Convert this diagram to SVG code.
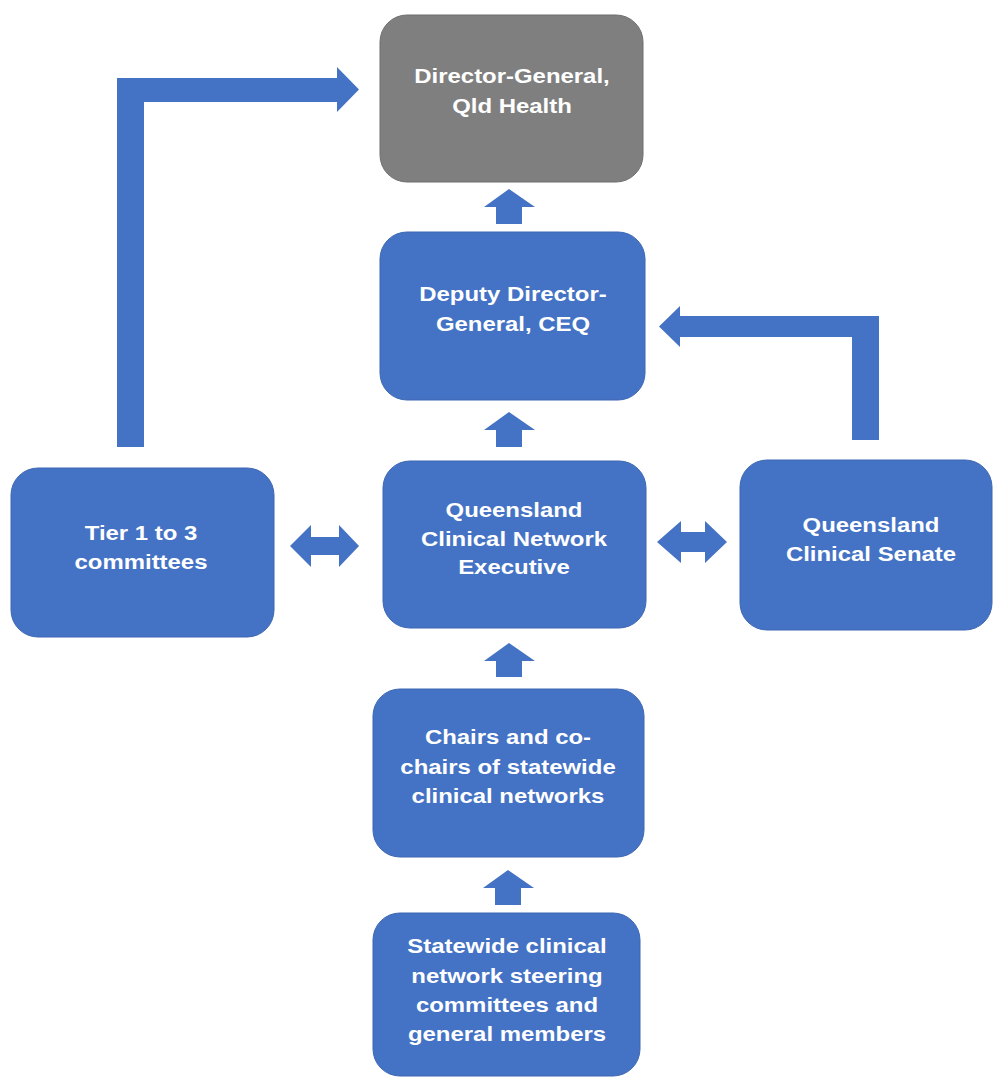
<svg xmlns="http://www.w3.org/2000/svg" width="993" height="1077" viewBox="0 0 993 1077">
  <style>
    .box { fill: #4472C4; stroke: #3d67b3; stroke-width: 1; }
    .gray { fill: #7F7F7F; stroke: #6f6f6f; stroke-width: 1; }
    .lbl { font-family: "Liberation Sans", Arial, sans-serif; font-weight: bold; font-size: 21px; fill: #FFFFFF; text-anchor: middle; }
    .arr { fill: #4472C4; }
  </style>
  <rect width="993" height="1077" fill="#FFFFFF"/>

  <g id="connectors">
    <polygon class="arr" points="484,207 509,189 535,207 522,207 522,224 496,224 496,207"/>
    <polygon class="arr" points="484,430 509,412 535,430 522,430 522,447 496,447 496,430"/>
    <polygon class="arr" points="484,661 509,643 535,661 522,661 522,677 496,677 496,661"/>
    <polygon class="arr" points="483,888 508,870 534,888 521,888 521,905 495,905 495,888"/>
    <polygon class="arr" points="117,447 117,78 337,78 337,67 359,89.5 337,112 337,102 144,102 144,447"/>
    <polygon class="arr" points="879,440 879,316 680,316 680,306 659,326.5 680,347 680,337 852,337 852,440"/>
    <polygon class="arr" points="290,546 311,525 311,537 339,537 339,525 359,546 339,567 339,555 311,555 311,567"/>
    <polygon class="arr" points="657,542 681,521 681,532 705,532 705,521 727,542 705,563 705,552 681,552 681,563"/>
  </g>

  <g id="dg">
    <rect class="gray" x="380" y="15" width="263" height="167" rx="27"/>
    <text class="lbl" transform="translate(512,0) scale(1.14,1)"><tspan x="0" y="83">Director-General,</tspan><tspan x="0" y="113">Qld Health</tspan></text>
  </g>

  <g id="ddg">
    <rect class="box" x="380" y="232" width="265" height="168" rx="27"/>
    <text class="lbl" transform="translate(513,0) scale(1.14,1)"><tspan x="0" y="301">Deputy Director-</tspan><tspan x="0" y="331">General, CEQ</tspan></text>
  </g>

  <g id="tier">
    <rect class="box" x="11" y="468" width="263" height="169" rx="27"/>
    <text class="lbl" transform="translate(141,0) scale(1.14,1)"><tspan x="0" y="540">Tier 1 to 3</tspan><tspan x="0" y="569">committees</tspan></text>
  </g>

  <g id="qcne">
    <rect class="box" x="383" y="461" width="263" height="167" rx="27"/>
    <text class="lbl" transform="translate(514,0) scale(1.14,1)"><tspan x="0" y="517">Queensland</tspan><tspan x="0" y="546">Clinical Network</tspan><tspan x="0" y="574">Executive</tspan></text>
  </g>

  <g id="senate">
    <rect class="box" x="740" y="460" width="252" height="170" rx="27"/>
    <text class="lbl" transform="translate(871,0) scale(1.14,1)"><tspan x="0" y="532">Queensland</tspan><tspan x="0" y="561">Clinical Senate</tspan></text>
  </g>

  <g id="chairs">
    <rect class="box" x="373" y="689" width="271" height="168" rx="27"/>
    <text class="lbl" transform="translate(508,0) scale(1.14,1)"><tspan x="0" y="744">Chairs and co-</tspan><tspan x="0" y="774">chairs of statewide</tspan><tspan x="0" y="803">clinical networks</tspan></text>
  </g>

  <g id="statewide">
    <rect class="box" x="373" y="913" width="267" height="163" rx="27"/>
    <text class="lbl" transform="translate(507,0) scale(1.14,1)"><tspan x="0" y="953">Statewide clinical</tspan><tspan x="0" y="983">network steering</tspan><tspan x="0" y="1012">committees and</tspan><tspan x="0" y="1041">general members</tspan></text>
  </g>
</svg>
